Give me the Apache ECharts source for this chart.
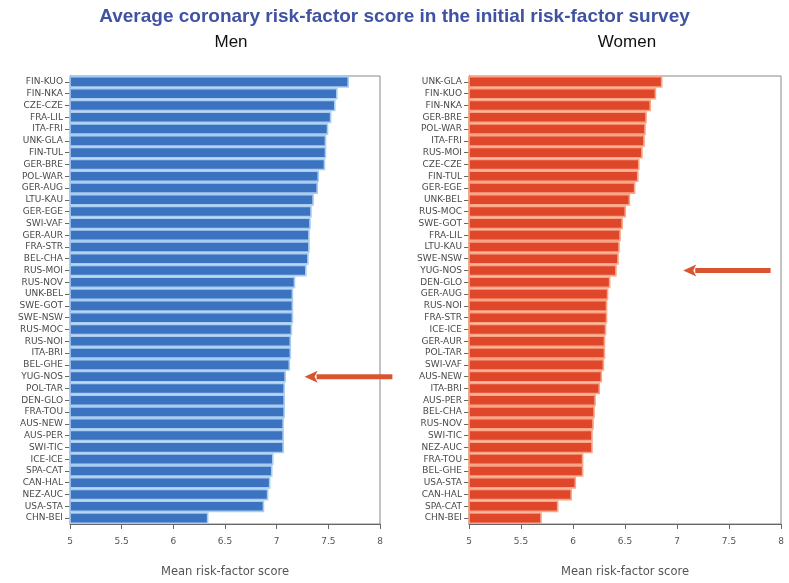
<!DOCTYPE html>
<html>
<head>
<meta charset="utf-8">
<script src="https://cdn.jsdelivr.net/npm/echarts@6/dist/echarts.min.js"></script>
<style>
  html, body { margin: 0; padding: 0; background: #fff; }
  #chart { width: 789px; height: 583px; }
</style>
</head>
<body>
<div id="chart"></div>
<script>
var menCentres = ['FIN-KUO', 'FIN-NKA', 'CZE-CZE', 'FRA-LIL', 'ITA-FRI', 'UNK-GLA', 'FIN-TUL', 'GER-BRE',
  'POL-WAR', 'GER-AUG', 'LTU-KAU', 'GER-EGE', 'SWI-VAF', 'GER-AUR', 'FRA-STR', 'BEL-CHA', 'RUS-MOI',
  'RUS-NOV', 'UNK-BEL', 'SWE-GOT', 'SWE-NSW', 'RUS-MOC', 'RUS-NOI', 'ITA-BRI', 'BEL-GHE', 'YUG-NOS',
  'POL-TAR', 'DEN-GLO', 'FRA-TOU', 'AUS-NEW', 'AUS-PER', 'SWI-TIC', 'ICE-ICE', 'SPA-CAT', 'CAN-HAL',
  'NEZ-AUC', 'USA-STA', 'CHN-BEI'];
var menScores = [7.70, 7.59, 7.57, 7.53, 7.50, 7.48, 7.48, 7.47, 7.41, 7.40, 7.36, 7.34, 7.33, 7.32,
  7.32, 7.31, 7.29, 7.18, 7.16, 7.16, 7.16, 7.15, 7.14, 7.14, 7.13, 7.09, 7.08, 7.08, 7.08, 7.07,
  7.07, 7.07, 6.97, 6.96, 6.94, 6.92, 6.88, 6.34];

var womenCentres = ['UNK-GLA', 'FIN-KUO', 'FIN-NKA', 'GER-BRE', 'POL-WAR', 'ITA-FRI', 'RUS-MOI', 'CZE-CZE',
  'FIN-TUL', 'GER-EGE', 'UNK-BEL', 'RUS-MOC', 'SWE-GOT', 'FRA-LIL', 'LTU-KAU', 'SWE-NSW', 'YUG-NOS',
  'DEN-GLO', 'GER-AUG', 'RUS-NOI', 'FRA-STR', 'ICE-ICE', 'GER-AUR', 'POL-TAR', 'SWI-VAF', 'AUS-NEW',
  'ITA-BRI', 'AUS-PER', 'BEL-CHA', 'RUS-NOV', 'SWI-TIC', 'NEZ-AUC', 'FRA-TOU', 'BEL-GHE', 'USA-STA',
  'CAN-HAL', 'SPA-CAT', 'CHN-BEI'];
var womenScores = [6.86, 6.80, 6.75, 6.71, 6.70, 6.69, 6.67, 6.64, 6.63, 6.60, 6.55, 6.51, 6.48, 6.46,
  6.45, 6.44, 6.42, 6.36, 6.34, 6.33, 6.33, 6.32, 6.31, 6.31, 6.30, 6.28, 6.26, 6.22, 6.21, 6.20,
  6.19, 6.19, 6.10, 6.10, 6.03, 5.99, 5.86, 5.70];

var xMin = 5, xMax = 8, xStep = 0.5;
var highlighted = 'YUG-NOS';
// arrow spans (score units) for each panel
var menArrow = [7.27, 8.12];
var womenArrow = [7.06, 7.90];

var font = 'Liberation Sans, Arial, sans-serif';
var smallFont = 'DejaVu Sans, sans-serif';
var chart = echarts.init(document.getElementById('chart'));

function xAxisFor(idx) {
  return {
    type: 'value', gridIndex: idx, min: xMin, max: xMax, interval: xStep,
    name: 'Mean risk-factor score', nameLocation: 'middle', nameGap: 42,
    nameTextStyle: { fontSize: 11.5, color: '#555', fontFamily: smallFont },
    axisLine: { show: true, lineStyle: { color: '#666' } },
    axisTick: { show: true, length: 5, lineStyle: { color: '#666' } },
    axisLabel: { fontSize: 9, color: '#555', fontFamily: smallFont, margin: 13 },
    splitLine: { show: false }
  };
}

function yAxisFor(idx, cats) {
  return {
    type: 'category', gridIndex: idx, data: cats, inverse: true,
    axisLine: { show: true, lineStyle: { color: '#666' } },
    axisTick: { show: true, length: 5, alignWithLabel: true, lineStyle: { color: '#666' } },
    axisLabel: { fontSize: 9, color: '#4a4a4a', fontFamily: smallFont, margin: 7, interval: 0 }
  };
}

function barSeries(idx, values, dark, light) {
  return {
    type: 'bar', xAxisIndex: idx, yAxisIndex: idx, data: values,
    barCategoryGap: '0%',
    itemStyle: { color: dark, borderColor: light, borderWidth: 1.6 }
  };
}

chart.setOption({
  backgroundColor: '#fff',
  animation: false,
  title: [
    { text: 'Average coronary risk-factor score in the initial risk-factor survey', left: 'center', top: 2,
      textStyle: { fontSize: 19, fontWeight: 'bold', color: '#3f52a3', fontFamily: font } },
    { text: 'Men', left: 226, top: 29, textAlign: 'center',
      textStyle: { fontSize: 17, fontWeight: 'normal', color: '#111', fontFamily: font } },
    { text: 'Women', left: 622, top: 29, textAlign: 'center',
      textStyle: { fontSize: 17, fontWeight: 'normal', color: '#111', fontFamily: font } }
  ],
  grid: [
    { left: 70, right: 409, top: 76, bottom: 53, show: true, borderColor: '#888', borderWidth: 1 },
    { left: 469, right: 8, top: 76, bottom: 53, show: true, borderColor: '#888', borderWidth: 1 }
  ],
  xAxis: [xAxisFor(0), xAxisFor(1)],
  yAxis: [yAxisFor(0, menCentres), yAxisFor(1, womenCentres)],
  series: [
    barSeries(0, menScores, '#3b73c0', '#a9cdf0'),
    barSeries(1, womenScores, '#e0472a', '#f8a686')
  ]
});

// arrows pointing at the highlighted centre, placed through the axes' own scales
function arrowGraphics(gridIndex, span) {
  var tip = chart.convertToPixel({ gridIndex: gridIndex }, [span[0], highlighted]);
  var tail = chart.convertToPixel({ gridIndex: gridIndex }, [span[1], highlighted]);
  var y = tip[1];
  var headLen = 13, headHalf = 6;
  return [
    { type: 'line', silent: true,
      shape: { x1: tip[0] + headLen - 1, y1: y, x2: tail[0], y2: y },
      style: { stroke: '#d85530', lineWidth: 5 } },
    { type: 'polygon', silent: true,
      shape: { points: [[tip[0], y], [tip[0] + headLen, y - headHalf], [tip[0] + headLen - 3, y], [tip[0] + headLen, y + headHalf]] },
      style: { fill: '#d85530' } }
  ];
}

chart.setOption({
  graphic: arrowGraphics(0, menArrow).concat(arrowGraphics(1, womenArrow))
});
</script>
</body>
</html>
